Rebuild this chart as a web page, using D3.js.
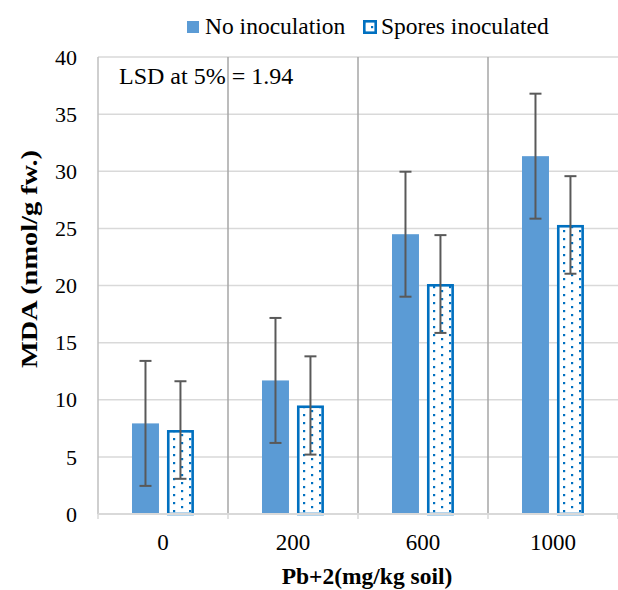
<!DOCTYPE html>
<html><head><meta charset="utf-8">
<script src="https://cdn.jsdelivr.net/npm/d3@7/dist/d3.min.js"></script>
<style>body{margin:0;background:#fff}svg{display:block}text{font-family:"Liberation Serif","Times New Roman",serif;fill:#000}</style>
</head><body><svg id="c" width="618" height="590"></svg>
<script>
const categories = ["0", "200", "600", "1000"];
const seriesNames = ["No inoculation", "Spores inoculated"];
const noInoculation = [7.93, 11.69, 24.49, 31.32];
const noInoculationErr = [5.47, 5.47, 5.47, 5.47];
const sporesInoculated = [7.35, 9.5, 20.13, 25.3];
const sporesInoculatedErr = [4.27, 4.3, 4.28, 4.27];
const yTicks = [0, 5, 10, 15, 20, 25, 30, 35, 40];
const lsdLabel = "LSD at 5% = 1.94";
const xTitle = "Pb+2(mg/kg soil)";
const yTitle = "MDA (nmol/g fw.)";

const svg = d3.select("#c");
const L = 98, R = 618, T = 57, B = 514;
const x0 = d3.scaleBand().domain(categories).range([L, R]).paddingInner(0).paddingOuter(0);
const x1 = d3.scaleBand().domain(seriesNames).range([x0.bandwidth()*0.2615, x0.bandwidth()*0.738]).paddingInner(8/35);
const y = d3.scaleLinear().domain([0, 40]).range([B, T]);

const defs = svg.append("defs");
const pat = defs.append("pattern").attr("id","dots").attr("patternUnits","userSpaceOnUse")
  .attr("width",16).attr("height",8).attr("x",0).attr("y",2);
pat.append("rect").attr("width",16).attr("height",8).attr("fill","#fff");
pat.append("rect").attr("x",3).attr("y",0).attr("width",2.2).attr("height",2.2).attr("fill","#0070c0");
pat.append("rect").attr("x",11).attr("y",4).attr("width",2.2).attr("height",2.2).attr("fill","#0070c0");

// horizontal gridlines
svg.append("g").selectAll("line").data(yTicks).join("line")
  .attr("x1", L).attr("x2", R).attr("y1", d=>y(d)).attr("y2", d=>y(d))
  .attr("stroke", "#d9d9d9").attr("stroke-width", 1.5);

// vertical separators
svg.append("g").selectAll("line").data(categories.slice(1)).join("line")
  .attr("x1", d=>x0(d)).attr("x2", d=>x0(d)).attr("y1", T).attr("y2", B)
  .attr("stroke", "#a6a6a6").attr("stroke-width", 1.5);

// left axis
svg.append("line").attr("x1",L).attr("x2",L).attr("y1",T).attr("y2",B).attr("stroke","#bfbfbf").attr("stroke-width",1.5);

// y tick labels
svg.append("g").selectAll("text").data(yTicks).join("text")
  .attr("x", 77).attr("y", d=>y(d)).attr("dy","0.35em").attr("text-anchor","end")
  .style("font-size","22px").text(d=>d);

// bars
const data = categories.map((c,i)=>({c, vals:[
  {s:seriesNames[0], v:noInoculation[i], e:noInoculationErr[i]},
  {s:seriesNames[1], v:sporesInoculated[i], e:sporesInoculatedErr[i]}]}));
const g = svg.append("g").selectAll("g").data(data).join("g").attr("transform", d=>`translate(${x0(d.c)},0)`);
g.append("rect").attr("x", d=>x1(seriesNames[0])).attr("width", x1.bandwidth())
  .attr("y", d=>y(d.vals[0].v)).attr("height", d=>B - y(d.vals[0].v)).attr("fill","#5b9bd5");
g.append("rect").attr("x", d=>x1(seriesNames[1])+1.3).attr("width", x1.bandwidth()-2.6)
  .attr("y", d=>y(d.vals[1].v)+1.3).attr("height", d=>B - y(d.vals[1].v)-1.3)
  .attr("fill","url(#dots)").attr("stroke","#0070c0").attr("stroke-width",2.6);

// bottom axis
svg.append("line").attr("x1",L).attr("x2",R).attr("y1",B).attr("y2",B).attr("stroke","#d9d9d9").attr("stroke-width",2);
svg.append("g").selectAll("line").data(categories.concat(["end"])).join("line")
  .attr("x1", d=>d==="end"?R:x0(d)).attr("x2", d=>d==="end"?R:x0(d)).attr("y1",B).attr("y2",B+5)
  .attr("stroke","#d9d9d9").attr("stroke-width",1.5);

// error bars
const eb = g.selectAll("g.e").data(d=>d.vals).join("g").attr("class","e");
const cx = d=>x1(d.s)+x1.bandwidth()/2;
eb.append("line").attr("x1",cx).attr("x2",cx).attr("y1",d=>y(d.v+d.e)).attr("y2",d=>y(d.v-d.e)).attr("stroke","#595959").attr("stroke-width",2);
eb.append("line").attr("x1",d=>cx(d)-6).attr("x2",d=>cx(d)+6).attr("y1",d=>y(d.v+d.e)).attr("y2",d=>y(d.v+d.e)).attr("stroke","#595959").attr("stroke-width",2);
eb.append("line").attr("x1",d=>cx(d)-6).attr("x2",d=>cx(d)+6).attr("y1",d=>y(d.v-d.e)).attr("y2",d=>y(d.v-d.e)).attr("stroke","#595959").attr("stroke-width",2);

// x tick labels
svg.append("g").selectAll("text").data(categories).join("text")
  .attr("x", d=>x0(d)+x0.bandwidth()/2).attr("y", 550).attr("text-anchor","middle")
  .style("font-size","23px").text(d=>d);

// titles
svg.append("text").attr("x", 367).attr("y", 584).attr("text-anchor","middle")
  .style("font-size","23.5px").style("font-weight","bold").text(xTitle);
svg.append("text").attr("transform","translate(37,259) rotate(-90)").attr("text-anchor","middle")
  .style("font-size","23px").style("font-weight","bold")
  .attr("textLength",218).attr("lengthAdjust","spacingAndGlyphs").text(yTitle);

// LSD label
svg.append("text").attr("x",119).attr("y",84).style("font-size","24px").text(lsdLabel);

// legend
svg.append("rect").attr("x",187).attr("y",21).attr("width",12).attr("height",12).attr("fill","#5b9bd5");
svg.append("text").attr("x",205).attr("y",34).style("font-size","23.5px").text(seriesNames[0]);
svg.append("rect").attr("x",364.3).attr("y",21.3).attr("width",11.4).attr("height",11.4)
  .attr("fill","url(#dots)").attr("stroke","#0070c0").attr("stroke-width",2.6);
svg.append("text").attr("x",381).attr("y",34).style("font-size","23.5px").text(seriesNames[1]);
</script></body></html>
